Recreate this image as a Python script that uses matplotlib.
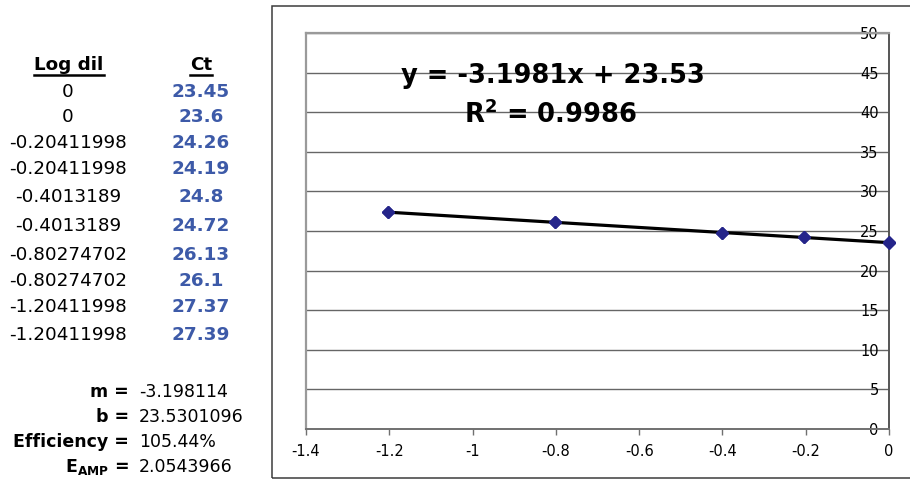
import matplotlib
matplotlib.use("Agg")
import matplotlib.pyplot as plt
from matplotlib.lines import Line2D
from matplotlib.patches import Rectangle
import numpy as np

plt.rcParams['font.family'] = ['DejaVu Sans']
plt.rcParams['mathtext.fontset'] = 'dejavusans'

# ---- data ----
log_dil = [0, 0, -0.20411998, -0.20411998, -0.4013189, -0.4013189,
           -0.80274702, -0.80274702, -1.20411998, -1.20411998]
log_dil_labels = ["0", "0", "-0.20411998", "-0.20411998", "-0.4013189", "-0.4013189",
                  "-0.80274702", "-0.80274702", "-1.20411998", "-1.20411998"]
ct = [23.45, 23.6, 24.26, 24.19, 24.8, 24.72, 26.13, 26.1, 27.37, 27.39]
ct_labels = ["23.45", "23.6", "24.26", "24.19", "24.8", "24.72", "26.13", "26.1", "27.37", "27.39"]
slope = -3.198114
intercept = 23.5301096
stat_names = ["m =", "b =", "Efficiency =", r"$\mathbf{E_{AMP}}$ ="]
stat_values = ["-3.198114", "23.5301096", "105.44%", "2.0543966"]
eq_text = "y = -3.1981x + 23.53"
r2_text = r"R$^\mathbf{2}$ = 0.9986"
x_ticks = [-1.4, -1.2, -1.0, -0.8, -0.6, -0.4, -0.2, 0.0]
x_tick_labels = ["-1.4", "-1.2", "-1", "-0.8", "-0.6", "-0.4", "-0.2", "0"]
y_ticks = [0, 5, 10, 15, 20, 25, 30, 35, 40, 45, 50]

W, H = 910, 483
def fx(x):
    return x / W
def fy(y):
    return 1 - y / H

fig = plt.figure(figsize=(W / 100, H / 100), dpi=100)
fig.patch.set_facecolor('white')

# outer chart box (right side runs off the figure)
fig.add_artist(Rectangle((fx(272), fy(478)), 1.0, (478 - 6) / H,
                         transform=fig.transFigure, fill=False,
                         edgecolor='#3c3c3c', lw=1.1, clip_on=False))

ax = fig.add_axes([fx(306), fy(429), (889 - 306) / W, (429 - 33) / H])
ax.set_xlim(-1.4, 0)
ax.set_ylim(0, 50)
ax.set_xticks(x_ticks)
ax.set_xticklabels(x_tick_labels)
ax.set_yticks(y_ticks)
ax.set_yticklabels([str(v) for v in y_ticks])
ax.grid(axis='y', color='#666666', lw=1.0)
ax.grid(axis='x', visible=False)
ax.set_axisbelow(True)

for s in ['left', 'top']:
    ax.spines[s].set_color('#9a9a9a')
    ax.spines[s].set_linewidth(1.6)
ax.spines['right'].set_color('#555555')
ax.spines['right'].set_linewidth(1.4)
ax.spines['bottom'].set_color('#707070')
ax.spines['bottom'].set_linewidth(1.4)

ax.tick_params(axis='x', direction='out', length=4, width=1, color='#707070',
               labelsize=10.5, pad=7)
ax.tick_params(axis='y', left=False, right=False, labelleft=False, labelright=True,
               labelsize=10.5, pad=-11)
for t in ax.yaxis.get_major_ticks():
    t.label2.set_horizontalalignment('right')

# trendline
xs = np.array([min(log_dil), max(log_dil)])
ax.plot(xs, slope * xs + intercept, color='black', lw=2.3, zorder=3, solid_capstyle='butt')
# data points
ax.plot(log_dil, ct, linestyle='none', marker='D', ms=6.5, color='#25258a',
        markeredgecolor='#25258a', zorder=4, clip_on=False)

# equation text
fig.text(fx(553), fy(76), eq_text, ha='center', va='center', fontsize=18.5, fontweight='bold')
fig.text(fx(550), fy(115), r2_text, ha='center', va='center', fontsize=18.5, fontweight='bold')

# ---- left table ----
fs = 13.2
hdr1 = fig.text(fx(69), fy(65), "Log dil", ha='center', va='center', fontsize=fs, fontweight='bold')
hdr2 = fig.text(fx(201), fy(65), "Ct", ha='center', va='center', fontsize=fs, fontweight='bold')

row_y = [92, 117, 143, 169, 197, 226, 255, 281, 307, 335]
for y, a, b in zip(row_y, log_dil_labels, ct_labels):
    fig.text(fx(68), fy(y), a, ha='center', va='center', fontsize=fs)
    fig.text(fx(201), fy(y), b, ha='center', va='center', fontsize=fs,
             fontweight='bold', color='#3d5aa8')

fs2 = 12.5
stat_y = [392, 417, 442, 467]
for y, n, v in zip(stat_y, stat_names, stat_values):
    fig.text(fx(129), fy(y), n, ha='right', va='center', fontsize=fs2, fontweight='bold')
    fig.text(fx(139), fy(y), v, ha='left', va='center', fontsize=fs2)

# underline headers
fig.canvas.draw()
r = fig.canvas.get_renderer()
for h in (hdr1, hdr2):
    bb = h.get_window_extent(r)
    fig.add_artist(Line2D([fx(bb.x0), fx(bb.x1)], [fy(75), fy(75)],
                          transform=fig.transFigure, color='black', lw=1.8))

fig.savefig("out.png", dpi=100, facecolor='white')
